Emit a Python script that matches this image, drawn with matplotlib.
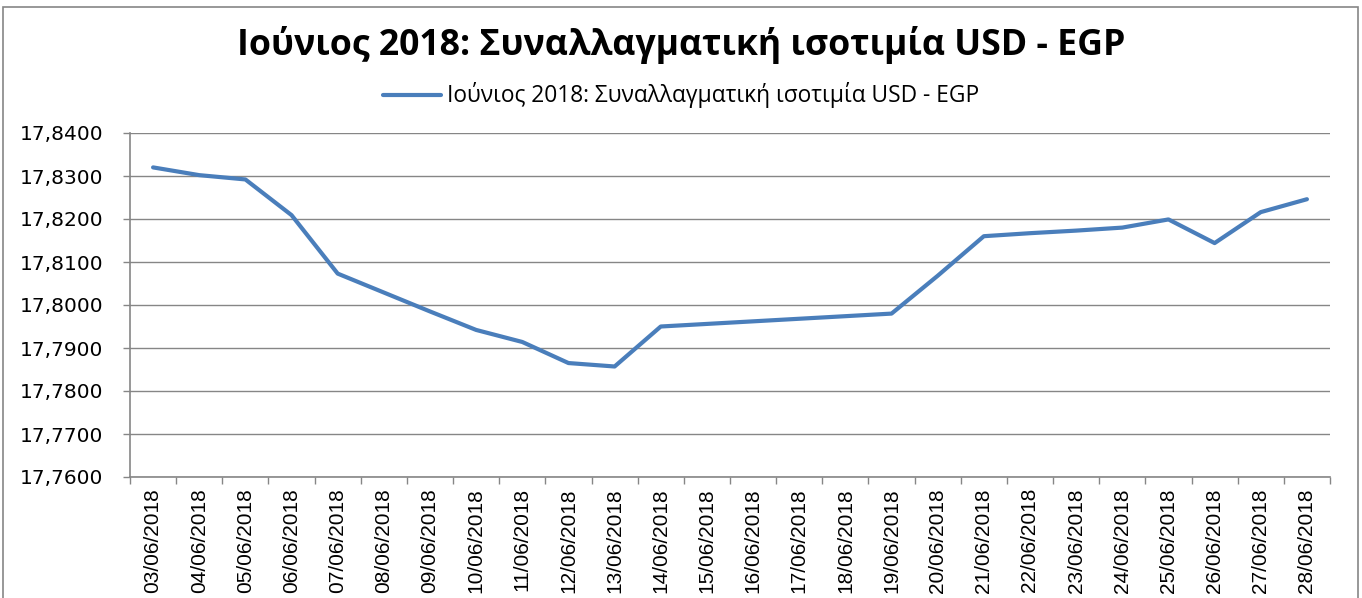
import matplotlib
matplotlib.use("Agg")
import matplotlib.pyplot as plt
from matplotlib.ticker import FixedLocator, FuncFormatter, NullFormatter
from matplotlib.patches import Rectangle

dates = ["03/06/2018", "04/06/2018", "05/06/2018", "06/06/2018", "07/06/2018",
         "08/06/2018", "09/06/2018", "10/06/2018", "11/06/2018", "12/06/2018",
         "13/06/2018", "14/06/2018", "15/06/2018", "16/06/2018", "17/06/2018",
         "18/06/2018", "19/06/2018", "20/06/2018", "21/06/2018", "22/06/2018",
         "23/06/2018", "24/06/2018", "25/06/2018", "26/06/2018", "27/06/2018",
         "28/06/2018"]
rates = [17.8320, 17.8302, 17.8292, 17.8209, 17.8073,
         17.8029, 17.7985, 17.7942, 17.7914, 17.7865,
         17.7857, 17.7950, 17.7956, 17.7962, 17.7968,
         17.7974, 17.7980, 17.8068, 17.8160, 17.8167,
         17.8173, 17.8180, 17.8199, 17.8144, 17.8216,
         17.8246]
yticks = [17.76, 17.77, 17.78, 17.79, 17.80, 17.81, 17.82, 17.83, 17.84]
title = "Ιούνιος 2018: Συναλλαγματική ισοτιμία USD - EGP"

W, H = 1362, 598
fig = plt.figure(figsize=(W / 100, H / 100), dpi=100)
ax = fig.add_axes([130 / W, 1 - 477 / H, 1200 / W, 344 / H])

grey = "#868686"
x = list(range(len(dates)))
line, = ax.plot(x, rates, color="#4A7EBB", lw=3.0, solid_capstyle="round",
                solid_joinstyle="round", label=title, zorder=3)

ax.set_xlim(-0.5, len(dates) - 0.5)
ax.set_ylim(yticks[0], yticks[-1])
ax.yaxis.set_major_locator(FixedLocator(yticks))
ax.yaxis.set_major_formatter(FuncFormatter(lambda v, p: f"{v:.4f}".replace(".", ",")))
ax.grid(axis="y", color=grey, lw=1.0, zorder=0)

ax.xaxis.set_major_locator(FixedLocator([i - 0.5 for i in range(len(dates) + 1)]))
ax.xaxis.set_major_formatter(NullFormatter())
ax.xaxis.set_minor_locator(FixedLocator(x))
ax.set_xticklabels(dates, minor=True, rotation=90, fontsize=15,
                   family=["Liberation Sans", "DejaVu Sans"])
ax.tick_params(axis="x", which="minor", length=0, pad=8)
ax.tick_params(axis="x", which="major", length=5, color=grey, width=1)
ax.tick_params(axis="y", length=5, color=grey, width=1, pad=14, labelsize=14.5)
for lab in ax.get_yticklabels():
    lab.set_family(["DejaVu Sans"])

for s in ["top", "right"]:
    ax.spines[s].set_visible(False)
for s in ["left", "bottom"]:
    ax.spines[s].set_color(grey)
    ax.spines[s].set_linewidth(1.2)

# Title fit to width
t = fig.text(0.5, 1 - 45 / H, title, ha="center", va="center", fontsize=26,
             fontweight="bold", family=["Open Sans", "DejaVu Sans"])
fig.canvas.draw()
r = fig.canvas.get_renderer()
bb = t.get_window_extent(r)
t.set_fontsize(26 * 890 / bb.width)

leg = fig.legend(handles=[line], loc="center", bbox_to_anchor=(0.5, 1 - 95 / H),
                 frameon=False, fontsize=14, handlelength=3.0, handletextpad=0.3,
                 prop={"family": ["Open Sans", "DejaVu Sans"], "size": 14})
fig.canvas.draw()
lt = leg.get_texts()[0]
bb = lt.get_window_extent(r)
lt.set_fontsize(14 * 535 / bb.width)

fig.patches.append(Rectangle((3 / W, -0.1), (W - 7) / W, 1.1 - 7 / H,
                             transform=fig.transFigure, fill=False,
                             edgecolor=grey, lw=1.2))

fig.savefig("out.png", dpi=100)
